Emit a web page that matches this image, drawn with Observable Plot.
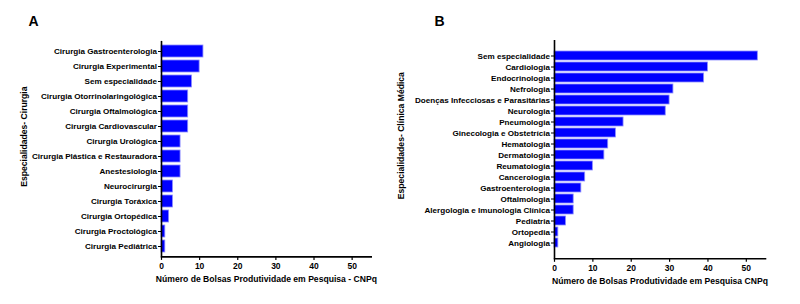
<!DOCTYPE html>
<html>
<head>
<meta charset="utf-8">
<script src="https://cdn.jsdelivr.net/npm/d3@7"></script>
<script src="https://cdn.jsdelivr.net/npm/@observablehq/plot@0.6"></script>
<style>
  html, body { margin: 0; padding: 0; background: #fff; }
  #wrap { position: relative; width: 800px; height: 304px; overflow: hidden; }
  #wrap > div { position: absolute; top: 0; }
  svg { font-family: Arial, "Liberation Sans", sans-serif; font-weight: bold; }
</style>
</head>
<body>
<div id="wrap"><div id="pa" style="left:0"></div><div id="pb" style="left:380px"></div></div>
<script>
const cirurgiaCategories = [
  "Cirurgia Gastroenterologia", "Cirurgia Experimental", "Sem especialidade",
  "Cirurgia Otorrinolaringológica", "Cirurgia Oftalmológica", "Cirurgia Cardiovascular",
  "Cirurgia Urológica", "Cirurgia Plástica e Restauradora", "Anestesiologia",
  "Neurocirurgia", "Cirurgia Toráxica", "Cirurgia Ortopédica",
  "Cirurgia Proctológica", "Cirurgia Pediátrica"
];
const cirurgiaValues = [11, 10, 8, 7, 7, 7, 5, 5, 5, 3, 3, 2, 1, 1];

const clinicaCategories = [
  "Sem especialidade", "Cardiologia", "Endocrinologia", "Nefrologia",
  "Doenças Infecciosas e Parasitárias", "Neurologia", "Pneumologia",
  "Ginecologia e Obstetrícia", "Hematologia", "Dermatologia", "Reumatologia",
  "Cancerologia", "Gastroenterologia", "Oftalmologia",
  "Alergologia e Imunologia Clínica", "Pediatria", "Ortopedia", "Angiologia"
];
const clinicaValues = [53, 40, 39, 31, 30, 29, 18, 16, 14, 13, 10, 8, 7, 5, 5, 3, 1, 1];

const xTicks = [0, 10, 20, 30, 40, 50];
const xDomain = [0, 55];

function panel({cats, vals, letter, xTitle, yTitle, width, margins, pad, letterDx, yTitleDx, yTitleDy}) {
  const data = cats.map((c, i) => ({cat: c, value: vals[i]}));
  return Plot.plot({
    width,
    height: 304,
    marginLeft: margins[0],
    marginRight: margins[1],
    marginTop: margins[2],
    marginBottom: margins[3],
    style: {fontFamily: 'Arial, "Liberation Sans", sans-serif', fontWeight: "bold", color: "#000", background: "#fff"},
    x: {domain: xDomain, ticks: xTicks},
    y: {domain: cats, paddingInner: pad[0], paddingOuter: pad[1], align: 0.5},
    marks: [
      Plot.barX(data, {x: "value", y: "cat", fill: "#0000ff", stroke: "#8c8cff", strokeWidth: 0.8}),
      Plot.axisY({tickSize: 3, tickPadding: 1.5, fontSize: 8.1, label: null, stroke: "#000", strokeWidth: 1}),
      Plot.axisX({ticks: xTicks, tickSize: 3.5, tickPadding: 2.5, fontSize: 8.5, label: null, tickFormat: d3.format("d"), strokeWidth: 1.2}),
      Plot.ruleX([0], {stroke: "#000", strokeWidth: 1.6}),
      Plot.frame({anchor: "bottom", stroke: "#000", strokeWidth: 1.6}),
      Plot.text([xTitle], {frameAnchor: "bottom", dy: 22, lineAnchor: "middle", fontSize: 8.6, fontWeight: "bold", fill: "#000"}),
      Plot.text([yTitle], {frameAnchor: "left", rotate: -90, textAnchor: "middle", dx: yTitleDx, dy: yTitleDy, lineAnchor: "middle", fontSize: 8.6, fontWeight: "bold", fill: "#000"}),
      Plot.text([letter], {frameAnchor: "top-left", textAnchor: "start", lineAnchor: "bottom", dx: letterDx, dy: -15, fontSize: 14, fontWeight: "bold", fill: "#000"})
    ]
  });
}

document.getElementById("pa").appendChild(panel({
  cats: cirurgiaCategories, vals: cirurgiaValues, letter: "A",
  xTitle: "Número de Bolsas Produtividade em Pesquisa - CNPq",
  yTitle: "Especialidades- Cirurgia",
  width: 380,
  margins: [161, 9.3, 40.9, 47.6], pad: [0.2, 0.2],
  letterDx: -133, yTitleDx: -137, yTitleDy: -12.5
}));

document.getElementById("pb").appendChild(panel({
  cats: clinicaCategories, vals: clinicaValues, letter: "B",
  xTitle: "Número de Bolsas Produtividade em Pesquisa CNPq",
  yTitle: "Especialidades- Clínica Médica",
  width: 420,
  margins: [174, 35, 40, 45.7], pad: [0.15, 0.3],
  letterDx: -120, yTitleDx: -153, yTitleDy: -14
}));
</script>
</body>
</html>
